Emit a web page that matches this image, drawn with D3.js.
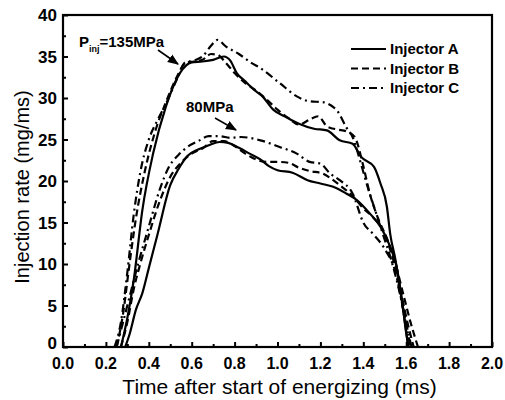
<!DOCTYPE html>
<html><head><meta charset="utf-8">
<script src="https://cdn.jsdelivr.net/npm/d3@7/dist/d3.min.js"></script>
<style>body{margin:0;background:#fff}svg{display:block}</style>
</head><body><svg id="c" width="505" height="400"></svg>
<script>
// ---- data (time in ms, injection rate in mg/ms) ----
const seriesNames = ["Injector A", "Injector B", "Injector C"];
const xTicks = [0.0,0.2,0.4,0.6,0.8,1.0,1.2,1.4,1.6,1.8,2.0];
const yTicks = [0,5,10,15,20,25,30,35,40];

const t135A = [0.27,0.30,0.33,0.37,0.42,0.48,0.545,0.60,0.65,0.70,0.75,0.78,0.81,0.85,0.89,0.93,0.98,1.04,1.10,1.17,1.23,1.29,1.35,1.39,1.45,1.48,1.51,1.525,1.55,1.57,1.59,1.61];
const v135A = [0,3.5,8.1,16.5,23.3,29,33,34.3,34.4,34.6,35,34.5,33,32,31,30.2,28.6,27.7,26.9,26.3,26.1,24.9,24.5,22.9,21.7,19.7,16.9,13.7,10.5,7.3,3.7,0];

const t135B = [0.25,0.28,0.31,0.34,0.38,0.43,0.48,0.53,0.57,0.61,0.65,0.69,0.72,0.76,0.80,0.85,0.90,0.95,1.00,1.05,1.10,1.15,1.19,1.23,1.28,1.32,1.36,1.40,1.43,1.46,1.51,1.55,1.58,1.61,1.635];
const v135B = [0,4,10,15.5,21,26,29.5,32.5,34.2,34.4,34.6,35.3,35.2,34.2,33,31.8,30.9,29.8,28.6,27.6,26.8,27.4,27.8,26.6,26.2,26.0,25.3,21.8,18.5,16.1,12.9,9.5,6,2.5,0];

const t135C = [0.24,0.27,0.30,0.33,0.36,0.40,0.44,0.48,0.53,0.57,0.61,0.65,0.69,0.72,0.76,0.82,0.88,0.92,1.01,1.09,1.15,1.21,1.25,1.28,1.32,1.35,1.39,1.42,1.45,1.49,1.53,1.57,1.60,1.625];
const v135C = [0,3,9,16,21,25,27.3,29.3,32.2,34.3,34.5,35,36.3,37,36.2,35.3,34.2,33.6,31.8,30.2,29.6,29.5,29.1,28.4,26.5,25.3,22,19.3,16.9,13.7,10.5,6.5,2.8,0];

const t80A = [0.29,0.31,0.34,0.37,0.40,0.44,0.50,0.54,0.58,0.63,0.68,0.73,0.77,0.82,0.87,0.92,0.96,1.00,1.07,1.14,1.20,1.26,1.32,1.37,1.43,1.48,1.525,1.555,1.58,1.60,1.61];
const v80A = [0,1.5,4.5,6.5,9.5,13.5,19.5,21.5,23,23.8,24.3,24.7,24.6,24,23.3,22.6,21.8,21.3,21,20.1,19.7,19.3,18.5,17.7,16.1,14.5,12.1,9.7,5.7,1.7,0];

const t80B = [0.27,0.30,0.33,0.36,0.40,0.45,0.50,0.55,0.60,0.65,0.70,0.75,0.80,0.85,0.90,0.95,1.00,1.05,1.10,1.15,1.21,1.26,1.30,1.35,1.40,1.45,1.50,1.55,1.59,1.62,1.655];
const v80B = [0,3,7,10,13.5,17.5,20.5,22.2,23.3,23.9,24.8,24.8,24.2,23.3,22.6,22.3,22.3,22.2,21.6,21.2,20.9,20.1,19.3,18.2,16.7,15.5,13.7,10,6,3,0];

const t80C = [0.25,0.28,0.31,0.35,0.40,0.45,0.49,0.54,0.58,0.63,0.68,0.73,0.78,0.83,0.92,1.01,1.09,1.15,1.20,1.245,1.29,1.35,1.40,1.45,1.50,1.55,1.59,1.62];
const v80C = [0,3,6,10,14.5,18.9,21.5,23.2,24.1,24.8,25.4,25.4,25.2,25.3,24.9,24.1,23.3,22.3,22.1,20.9,20.1,18.5,15,13.5,11.8,9,4,0];

// ---- layout ----
const svg = d3.select("#c");
const L = 63, R = 492, T = 15, B = 347;
const x = d3.scaleLinear().domain([0, 2]).range([L, R]);
const y = d3.scaleLinear().domain([0, 40]).range([B, T]);
const FONT = "'Liberation Sans', Arial, sans-serif";

const dashes = {"Injector A": null, "Injector B": "7,4", "Injector C": "8,4,2,4"};

const curves = [
  {name:"Injector A", t:t135A, v:v135A}, {name:"Injector B", t:t135B, v:v135B}, {name:"Injector C", t:t135C, v:v135C},
  {name:"Injector A", t:t80A, v:v80A}, {name:"Injector B", t:t80B, v:v80B}, {name:"Injector C", t:t80C, v:v80C}
];

const line = d3.line().x(d => x(d[0])).y(d => y(d[1])).curve(d3.curveMonotoneX);
curves.forEach(c => {
  svg.append("path").datum(d3.zip(c.t, c.v)).attr("d", line)
    .attr("fill", "none").attr("stroke", "#000").attr("stroke-width", 2.2)
    .attr("stroke-dasharray", dashes[c.name]);
});

// axes (ticks inward)
const xAxis = d3.axisBottom(x).tickValues(d3.range(0, 2.001, 0.1)).tickSizeInner(-5).tickSizeOuter(0).tickFormat("");
const gx = svg.append("g").attr("transform", `translate(0,${B})`).call(xAxis);
gx.selectAll(".tick line").attr("stroke-width", 2).attr("y2", (d, i) => i % 2 ? -3 : -5);
gx.select(".domain").remove();
svg.append("g").selectAll("text").data(xTicks).join("text")
  .attr("x", d => x(d)).attr("y", 369).attr("text-anchor", "middle")
  .attr("font-family", FONT).attr("font-size", 16).attr("font-weight", "bold")
  .text(d => d.toFixed(1));

const yAxis = d3.axisLeft(y).tickValues(d3.range(0, 40.01, 2.5)).tickSizeInner(-5).tickSizeOuter(0).tickFormat("");
const gy = svg.append("g").attr("transform", `translate(${L},0)`).call(yAxis);
gy.selectAll(".tick line").attr("stroke-width", 2).attr("x2", (d, i) => i % 2 ? 3 : 5);
gy.select(".domain").remove();
svg.append("g").selectAll("text").data(yTicks).join("text")
  .attr("x", 57).attr("y", d => y(d) + (d === 0 ? 2 : 6)).attr("text-anchor", "end")
  .attr("font-family", FONT).attr("font-size", 17).attr("font-weight", "bold")
  .text(d => d);

// frame
svg.append("rect").attr("x", L).attr("y", T).attr("width", R - L).attr("height", B - T)
  .attr("fill", "none").attr("stroke", "#000").attr("stroke-width", 2.2);

// axis titles
svg.append("text").attr("x", 279.5).attr("y", 394).attr("text-anchor", "middle")
  .attr("font-family", FONT).attr("font-size", 21).text("Time after start of energizing (ms)");
svg.append("text").attr("transform", "translate(29,187) rotate(-90)").attr("text-anchor", "middle")
  .attr("font-family", FONT).attr("font-size", 20).text("Injection rate (mg/ms)");

// legend
const lg = svg.append("g");
seriesNames.forEach((n, i) => {
  const yy = 49 + i * 19.5;
  lg.append("line").attr("x1", 351).attr("x2", 386).attr("y1", yy).attr("y2", yy)
    .attr("stroke", "#000").attr("stroke-width", 2.2).attr("stroke-dasharray", dashes[n]);
  lg.append("text").attr("x", 390).attr("y", yy + 5).attr("font-family", FONT)
    .attr("font-size", 15).attr("font-weight", "bold").text(n);
});

// annotations
const ann = svg.append("g").attr("font-family", FONT).attr("font-weight", "bold");
const p = ann.append("text").attr("x", 79).attr("y", 47).attr("font-size", 15);
p.append("tspan").text("P");
p.append("tspan").attr("font-size", 9).attr("dy", 5).text("inj");
p.append("tspan").attr("dy", -5).text("=135MPa");
ann.append("text").attr("x", 186).attr("y", 112).attr("font-size", 15).text("80MPa");

svg.append("defs").append("marker").attr("id", "ah").attr("viewBox", "0 0 10 10")
  .attr("refX", 9).attr("refY", 5).attr("markerWidth", 7).attr("markerHeight", 7)
  .attr("orient", "auto").append("path").attr("d", "M0,1 L10,5 L0,9 Z").attr("fill", "#000");
[[158, 50, 178, 64], [215, 118, 236, 130]].forEach(a => {
  svg.append("line").attr("x1", a[0]).attr("y1", a[1]).attr("x2", a[2]).attr("y2", a[3])
    .attr("stroke", "#000").attr("stroke-width", 1.6).attr("marker-end", "url(#ah)");
});
</script></body></html>
